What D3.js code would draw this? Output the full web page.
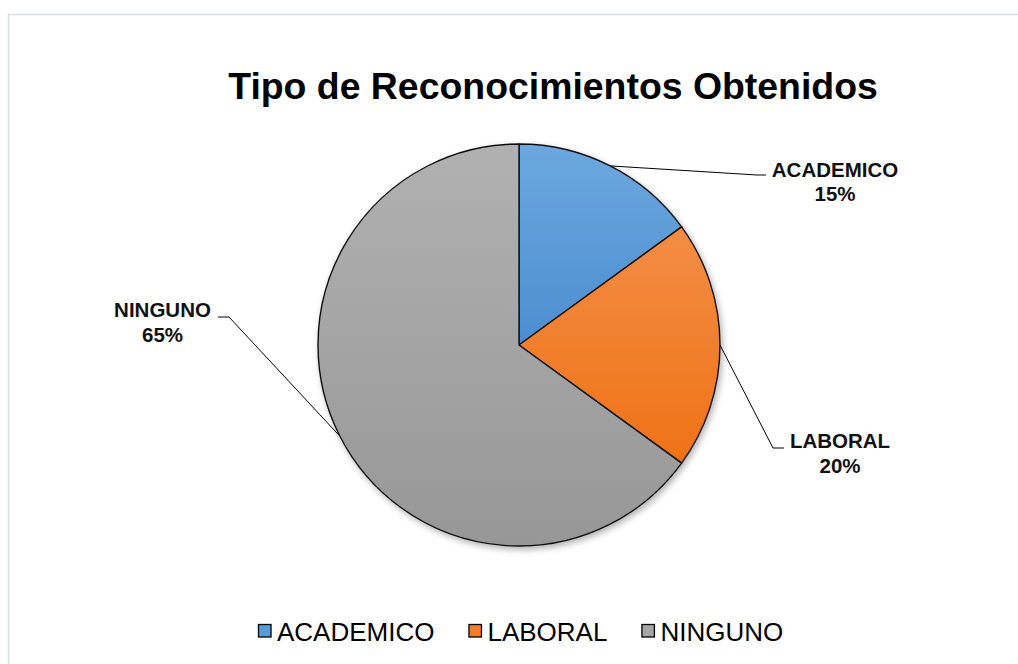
<!DOCTYPE html>
<html>
<head>
<meta charset="utf-8">
<script src="https://cdn.jsdelivr.net/npm/d3@7"></script>
<style>
  body { margin: 0; background: #fff; }
  svg { display: block; font-family: Arial, "Liberation Sans", sans-serif; }
</style>
</head>
<body>
<svg width="1018" height="664"></svg>
<script>
// data
const categories = ["ACADEMICO", "LABORAL", "NINGUNO"];
const values = [15, 20, 65];
const labels = ["15%", "20%", "65%"];

const colors = ["#5b9bd5", "#f07c2c", "#a5a5a5"];
const gradTop = ["#6ca8df", "#f38d45", "#b1b1b1"];
const gradBot = ["#4c8dd0", "#ef7216", "#979797"];

let svg = d3.select("svg");
let cx = 519, cy = 345, radius = 201;

// frame
svg.append("rect")
  .attr("x", 8.5).attr("y", 14.5)
  .attr("width", 1100).attr("height", 700)
  .attr("fill", "#fff")
  .attr("stroke", "#d9dee4")
  .attr("stroke-width", 1.5);

// title
svg.append("text")
  .attr("x", 553).attr("y", 99)
  .attr("text-anchor", "middle")
  .style("font-size", "37.4px")
  .style("font-weight", "bold")
  .attr("fill", "#000")
  .text("Tipo de Reconocimientos Obtenidos");

let defs = svg.append("defs");
let filter = defs.append("filter").attr("id", "shadow")
  .attr("x", "-20%").attr("y", "-20%").attr("width", "140%").attr("height", "140%");
filter.append("feDropShadow")
  .attr("dx", 2).attr("dy", 3).attr("stdDeviation", 3)
  .attr("flood-color", "#000").attr("flood-opacity", 0.3);

categories.forEach((c, i) => {
  let g = defs.append("linearGradient").attr("id", "grad" + i)
    .attr("x1", 0).attr("y1", 0).attr("x2", 0).attr("y2", 1);
  g.append("stop").attr("offset", "0%").attr("stop-color", gradTop[i]);
  g.append("stop").attr("offset", "100%").attr("stop-color", gradBot[i]);
});

let pie = d3.pie().sort(null).value(d => d.value);
let arc = d3.arc().innerRadius(0).outerRadius(radius);

let rows = categories.map((c, i) => ({ cat: c, value: values[i], label: labels[i], i: i }));
let arcs = pie(rows);

let pieG = svg.append("g").attr("transform", `translate(${cx},${cy})`);

pieG.append("g").attr("filter", "url(#shadow)")
  .selectAll("path")
  .data(arcs)
  .enter()
  .append("path")
  .attr("d", arc)
  .attr("fill", d => `url(#grad${d.data.i})`)
  .attr("stroke", "#111")
  .attr("stroke-width", 1.4)
  .attr("stroke-linejoin", "round");

// leader lines + labels (label anchor positions on the page)
let labelPos = [
  { elbow: [757, 175], end: [766, 175], tx: 835, ty: 176.5 },
  { elbow: [773, 448], end: [784, 448], tx: 840, ty: 448 },
  { elbow: [229, 317], end: [218, 317], tx: 162.5, ty: 317 }
];

arcs.forEach((d, k) => {
  let mid = (d.startAngle + d.endAngle) / 2;
  let sx = cx + radius * Math.sin(mid);
  let sy = cy - radius * Math.cos(mid);
  let p = labelPos[k];
  svg.append("polyline")
    .attr("points", [[sx, sy], p.elbow, p.end].map(q => q.join(",")).join(" "))
    .attr("fill", "none")
    .attr("stroke", "#000")
    .attr("stroke-width", 1);
  let t = svg.append("text")
    .attr("text-anchor", "middle")
    .style("font-size", "20.5px")
    .style("font-weight", "bold")
    .attr("fill", "#111");
  t.append("tspan").attr("x", p.tx).attr("y", p.ty).text(d.data.cat);
  t.append("tspan").attr("x", p.tx).attr("y", p.ty + 24.5).text(d.data.label);
});

// legend
let legend = svg.append("g").attr("transform", "translate(258,641)");
let lx = 0;
categories.forEach((c, i) => {
  let item = legend.append("g").attr("transform", `translate(${lx},0)`);
  item.append("rect")
    .attr("x", 0.5).attr("y", -16.5)
    .attr("width", 12.5).attr("height", 12.5)
    .attr("fill", colors[i])
    .attr("stroke", "#000")
    .attr("stroke-width", 1.3);
  let txt = item.append("text")
    .attr("x", 19).attr("y", 0)
    .style("font-size", "26px")
    .attr("fill", "#000")
    .text(c);
  lx += 19 + txt.node().getComputedTextLength() + 34;
});
</script>
</body>
</html>
